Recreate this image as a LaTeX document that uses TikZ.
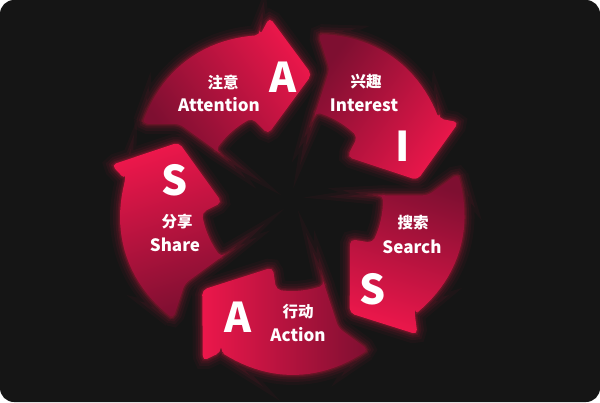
\documentclass[tikz,border=0pt]{standalone}
\usepackage{fontspec}
\setmainfont{Noto Sans CJK SC}
\definecolor{bgdark}{HTML}{151515}
\definecolor{bright}{HTML}{EC174B}
\definecolor{darkred}{HTML}{7E0F31}
\definecolor{glowred}{HTML}{FF1A4A}
\tikzset{
  lat/.style={text=white, font=\bfseries\fontsize{17}{17}\selectfont, inner sep=0pt},
  chn/.style={text=white, font=\bfseries\fontsize{15.5}{15.5}\selectfont, inner sep=0pt},
  big/.style={text=white, font=\bfseries\fontsize{41}{41}\selectfont, inner sep=0pt},
}
\newcommand\shapepath{%
  (\T:127) -- (\Ta:184) -- (\Tb:168)
  -- plot[domain=\Tb:\Tc, samples=24] (\x:{168+7*sin((\x-(\T)+20)/(-52)*180)})
  -- (\Td:136) -- (\Te:88)
  -- plot[domain=\Te:\Tf, samples=16] (\x:91)
  -- (\Tg:70) -- cycle}
\begin{document}
\begin{tikzpicture}[x=1pt,y=-1pt]
\useasboundingbox (0,0) rectangle (600,402);
\fill[white] (0,0) rectangle (600,402);
\fill[bgdark, rounded corners=14pt] (0,0) rectangle (600,402);
\begin{scope}[shift={(292,200)}]
\foreach \T [evaluate=\T as \Ta using \T-16,
             evaluate=\T as \Tb using \T-20,
             evaluate=\T as \Tc using \T-72,
             evaluate=\T as \Td using \T-65,
             evaluate=\T as \Te using \T-66,
             evaluate=\T as \Tf using \T-35,
             evaluate=\T as \Tg using \T-29,
             evaluate=\T as \Sa using -(\T+45)-90] in {-81,-9,63,135,207}{
  \foreach \w/\o in {20/0.04,14/0.06,9/0.08,5/0.11,2.5/0.14}{
    \draw[line width=\w pt, draw=glowred, draw opacity=\o, rounded corners=5pt] \shapepath;
  }
  \path[top color=bright, bottom color=darkred, shading angle=\Sa, rounded corners=5pt] \shapepath;
}
\end{scope}
% Attention
\node[big] (bA1) at (283,77) {A};
\node[chn] (cA1) at (223,82) {注意};
\node[lat] (lA1) at (219,105) {Attention};
% Interest
\node[big] (bI) at (403,146) {I};
\node[chn] (cI) at (366,82) {兴趣};
\node[lat] (lI) at (364,105) {Interest};
% Search
\node[big] (bS1) at (373,289) {S};
\node[chn] (cS1) at (413,223) {搜索};
\node[lat] (lS1) at (412,247) {Search};
% Action
\node[big] (bA2) at (238,317) {A};
\node[chn] (cA2) at (298,312) {行动};
\node[lat] (lA2) at (298,335) {Action};
% Share
\node[big] (bS2) at (175,180) {S};
\node[chn] (cS2) at (177,222) {分享};
\node[lat] (lS2) at (175,245) {Share};
\end{tikzpicture}
\end{document}
